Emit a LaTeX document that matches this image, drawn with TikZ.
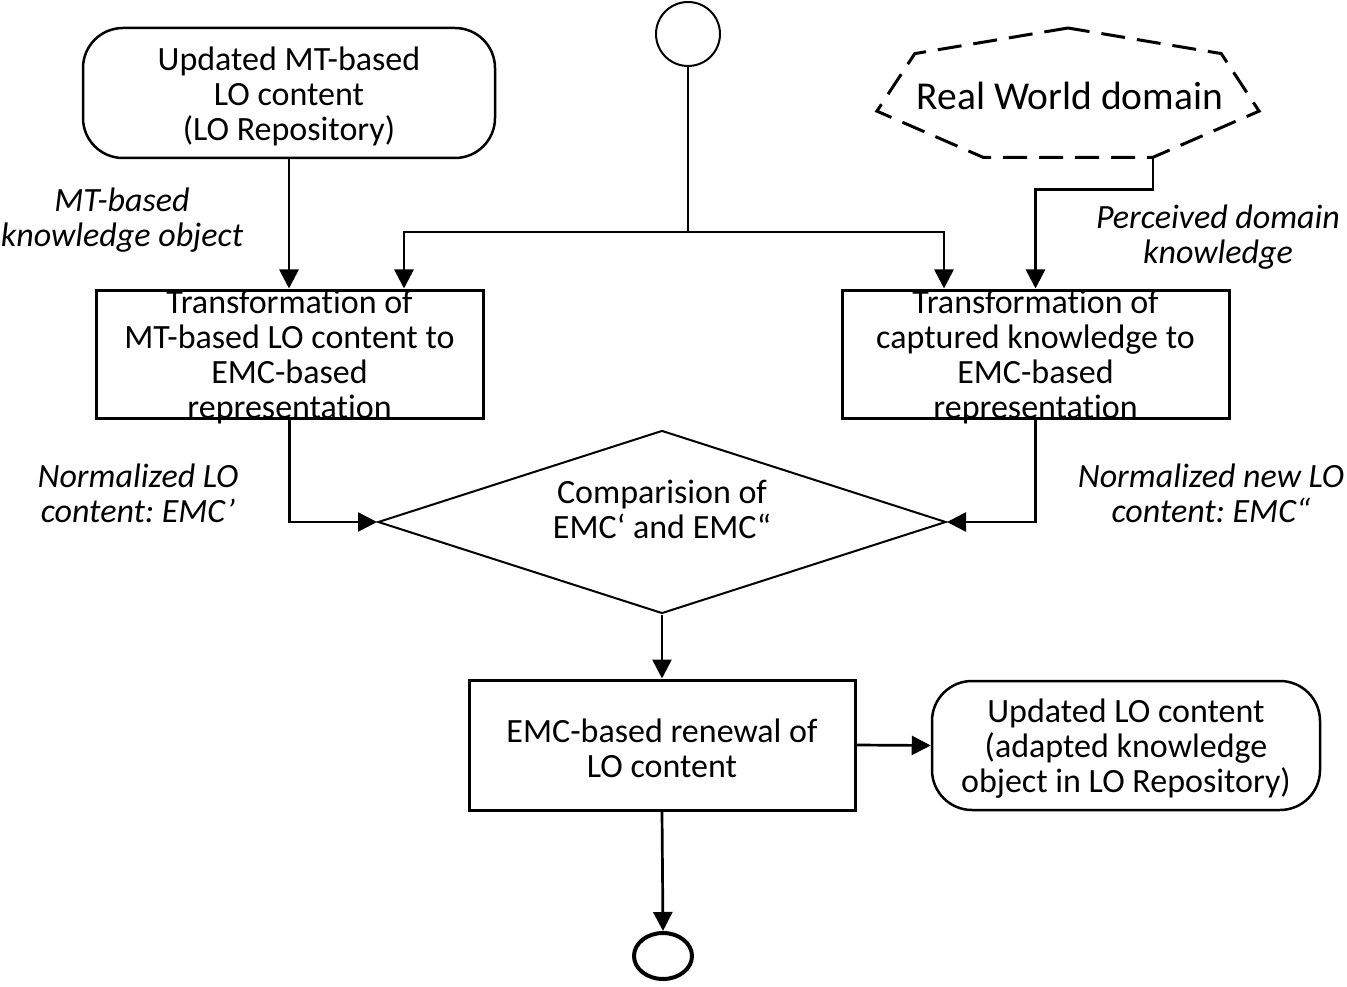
\documentclass[tikz,border=0pt]{standalone}
\usepackage{fontspec}
\setmainfont{Carlito}[RawFeature={-liga;-clig;-calt;-dlig}]
\frenchspacing
\usetikzlibrary{arrows.meta,shapes.geometric,calc}

\begin{document}
\begin{tikzpicture}[x=1pt,y=-1pt]
		\tikzstyle{every node}+=[inner sep=0pt, align=center, font=\fontsize{34}{35}\selectfont]
		\tikzstyle{wire}=[line width=2.7pt]
		\tikzstyle{flow}=[wire, -{Triangle[length=19pt,width=19pt]}]
		\tikzstyle{procbox}=[draw, line width=3pt, minimum width=387pt, minimum height=128pt]
		\tikzstyle{termbox}=[draw, line width=2.5pt, rounded corners=40pt, minimum width=412pt, minimum height=130pt]
		\tikzstyle{decision}=[diamond, draw, line width=2pt, minimum width=568pt, minimum height=183pt]
		\tikzstyle{note}=[font=\fontsize{34}{35}\selectfont\itshape]
		\tikzstyle{rwline}=[line width=3pt, dash pattern=on 24pt off 12pt]
		\useasboundingbox (0,0) rectangle (1347,987);
		% terminals and sources
		\node [circle, draw, line width=2pt, minimum size=64pt] (start) at (688,34) {};
		\node [termbox] (repo) at (289,93) {};
		\node (repotext) at (289,96) {Updated MT-based\\LO content\\(LO Repository)};
		\node [font=\fontsize{39.5}{40}\selectfont] (world) at (1070,96) {Real World domain};
		\coordinate (hc) at (1068,96);
		\draw [rwline] ($(hc)+(0,-68)$) \foreach \k in {1,...,6} {-- ($(hc)+({196*cos(90+\k*360/7)},{-68*sin(90+\k*360/7)})$)} -- cycle;
		\coordinate (worldout) at ($(hc)+({196*cos(90+4*360/7)},{-68*sin(90+4*360/7)})$);
		% transformation steps
		\node [procbox] (tleft) at (289.5,354) {};
		\node (tlefttext) at (289.5,357) {Transformation of\\MT-based LO content to\\EMC-based\\representation};
		\node [procbox] (tright) at (1035.5,354) {};
		\node (trighttext) at (1035.5,357) {Transformation of\\captured knowledge to\\EMC-based\\representation};
		% comparison and renewal
		\node [decision] (cmp) at (662,522) {};
		\node (cmptext) at (662,509) {Comparision of\\EMC‘ and EMC“};
		\node [procbox, minimum width=386pt, minimum height=130pt] (renew) at (662,745) {};
		\node (renewtext) at (662,748) {EMC-based renewal of\\LO content};
		\node [termbox, minimum width=388pt, minimum height=129pt] (updated) at (1126,745.5) {};
		\node (updatedtext) at (1126,748.5) {Updated LO content\\(adapted knowledge\\object in LO Repository)};
		\node [ellipse, draw, line width=4pt, minimum width=58pt, minimum height=46pt] (stop) at (663,956) {};
		% labels
		\node [note] (mtlabel) at (122,220) {MT-based\\knowledge object};
		\node [note] (perclabel) at (1218,237.5) {Perceived domain\\knowledge};
		\node [note] (normleft) at (138,493.5) {Normalized LO\\content: EMC’};
		\node [note] (normright) at (1211,493.5) {Normalized new LO\\content: EMC“};
		% connectors
		\coordinate (split) at (688,232);
		\draw [wire] (start.south) -- (split);
		\draw [flow] (split) -| ([xshift=114.5pt]tleft.north);
		\draw [flow] (split) -| ([xshift=-91.5pt]tright.north);
		\draw [flow] (repo.south) -- (repo.south |- tleft.north);
		\draw [flow] (worldout) -- ++(0,32) -| (tright.north);
		\draw [flow] (tleft.south) |- (cmp.west);
		\draw [flow] (tright.south) |- (cmp.east);
		\draw [flow] (cmp.south) -- (renew.north);
		\draw [flow] (renew.east) -- (updated.west);
		\draw [flow] (renew.south) -- (stop.north);
	\end{tikzpicture}
\end{document}
